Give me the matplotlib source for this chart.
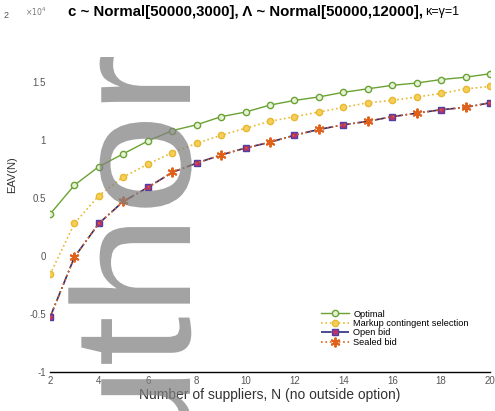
import numpy as np
import matplotlib
matplotlib.use("Agg")
import matplotlib.pyplot as plt
from matplotlib.font_manager import FontProperties
from matplotlib.patches import PathPatch
from matplotlib.textpath import TextPath
from matplotlib.transforms import Affine2D, IdentityTransform


# EAV(N) against number of suppliers (units of 1e4)
suppliers = list(range(2, 21))

optimal = [0.36, 0.61, 0.77, 0.88, 0.99, 1.08, 1.13, 1.20, 1.24, 1.30,
           1.34, 1.37, 1.41, 1.44, 1.47, 1.49, 1.52, 1.54, 1.57]
markup_selection = [-0.16, 0.28, 0.52, 0.68, 0.79, 0.89, 0.97, 1.04, 1.10, 1.16,
                    1.20, 1.24, 1.28, 1.32, 1.34, 1.37, 1.40, 1.44, 1.46]
open_bid = [-0.53, -0.01, 0.28, 0.47, 0.59, 0.72, 0.80, 0.87, 0.93, 0.98,
            1.04, 1.09, 1.13, 1.16, 1.20, 1.23, 1.26, 1.28, 1.32]
sealed_bid = [-0.53, -0.01, 0.28, 0.47, 0.59, 0.72, 0.80, 0.87, 0.93, 0.98,
              1.04, 1.09, 1.13, 1.16, 1.20, 1.23, 1.26, 1.28, 1.32]

labels = ["Optimal", "Markup contingent selection", "Open bid", "Sealed bid"]
x_ticks = [2, 4, 6, 8, 10, 12, 14, 16, 18, 20]
y_ticks = [-1, -0.5, 0, 0.5, 1, 1.5]
y_ticklabels = ["-1", "-0.5", "0", "0.5", "1", "1.5"]


def add_watermark(fig) -> None:
    # big grey "author" running upwards, slightly stretched along the text
    tp = TextPath((0, 0), "author", size=168,
                  prop=FontProperties(family="Liberation Sans"))
    ext = tp.get_extents()
    stretch = 1.08
    top_px = 411 - 57      # end of the "r", in pixels from the bottom
    base_px = 190          # baseline, pixels from the left
    tr = (Affine2D().scale(stretch, 1.0).rotate_deg(90)
          .translate(base_px, top_px - ext.x1 * stretch))
    patch = PathPatch(tr.transform_path(tp), facecolor="#808080",
                      edgecolor="none", alpha=0.72, zorder=10,
                      transform=IdentityTransform())
    fig.patches.append(patch)


def main() -> None:
    plt.rcParams["font.family"] = ["Liberation Sans", "DejaVu Sans"]

    fig = plt.figure(figsize=(4.95, 4.11), dpi=100)
    ax = fig.add_axes([0.101, 0.095, 0.889, 0.847])

    ax.plot(suppliers, optimal, "-", color="#6aa233", lw=1.0,
            marker="o", ms=4.5, mfc="#e6f2d8", mec="#6aa233", mew=1.0,
            label=labels[0])
    ax.plot(suppliers, markup_selection, ":", color="#e8b830", lw=1.2,
            marker="o", ms=4.5, mfc="#f5cf5a", mec="#e8b830", mew=1.0,
            label=labels[1])
    ax.plot(suppliers, open_bid, "-.", color="#2b2b7a", lw=1.2,
            marker="s", ms=5, mfc="#c0306a", mec="#5040a0", mew=1.0,
            markevery=slice(0, None, 2), label=labels[2])
    ax.plot(suppliers, sealed_bid, ":", color="#e0621a", lw=1.2,
            marker=(6, 2, 0), ms=7, mec="#e0621a", mew=1.4,
            markevery=slice(1, None, 2), label=labels[3])

    ax.set_xlim(2, 20)
    ax.set_ylim(-1, 2)
    ax.set_xticks(x_ticks)
    ax.set_yticks(y_ticks)
    ax.set_yticklabels(y_ticklabels)
    ax.tick_params(length=0, labelsize=7, labelcolor="#555555", pad=3)
    for side in ["top", "left", "right"]:
        ax.spines[side].set_visible(False)
    ax.spines["bottom"].set_linewidth(1.0)

    ax.set_xlabel("Number of suppliers, N (no outside option)", fontsize=10,
                  color="#333333", labelpad=1)
    fig.text(0.025, 0.575, "EAV(N)", rotation=90, ha="center", va="center",
             fontsize=8, color="#333333")

    # scale marker at the top left
    fig.text(0.008, 0.962, "2", fontsize=6.5, color="#555555", va="center")
    fig.text(0.05, 0.972, r"$\times10^4$", fontsize=5.5, color="#777777", va="center")

    fig.text(0.855, 0.972, "c ~ Normal[50000,3000], \u039b ~ Normal[50000,12000],",
             ha="right", va="center", fontsize=10.8, fontweight="bold")
    fig.text(0.859, 0.972, "\u03ba=\u03b3=1", ha="left", va="center", fontsize=9)

    ax.legend(loc="upper left", bbox_to_anchor=(0.607, 0.19), borderaxespad=0,
              fontsize=6.7, handlelength=3.0, handletextpad=0.5,
              frameon=False, labelspacing=0.05)

    add_watermark(fig)

    fig.savefig("out.png", dpi=100)


if __name__ == "__main__":
    main()
